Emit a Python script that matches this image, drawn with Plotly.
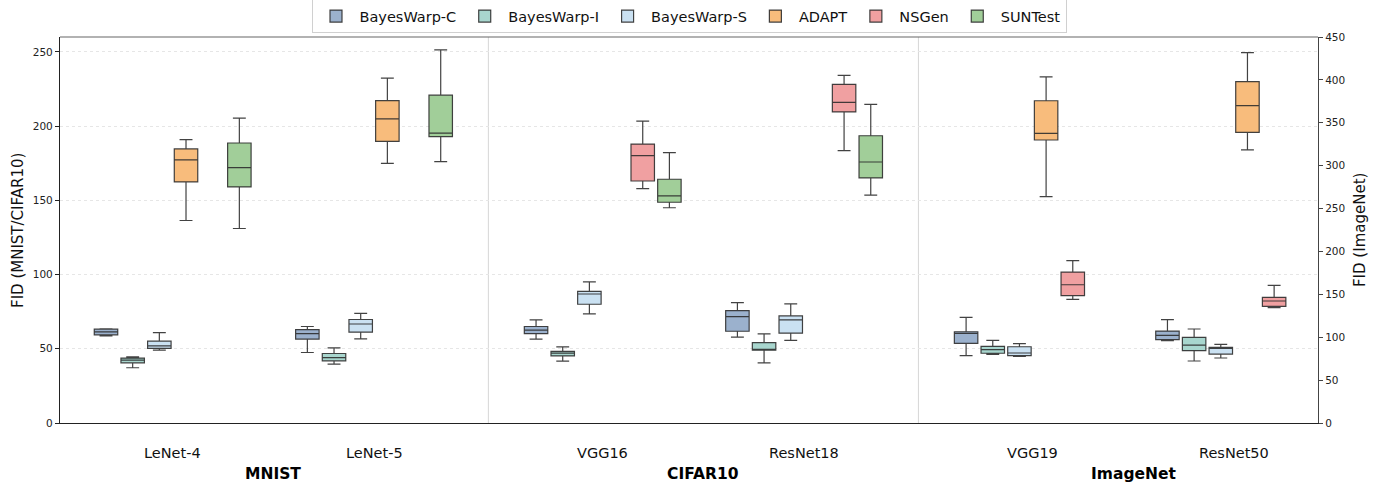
import plotly.graph_objects as go

# ---------------- data ----------------
datasets = ["MNIST", "CIFAR10", "ImageNet"]
models = ["LeNet-4", "LeNet-5", "VGG16", "ResNet18", "VGG19", "ResNet50"]
model_dataset = [0, 0, 1, 1, 2, 2]
methods = ["BayesWarp-C", "BayesWarp-I", "BayesWarp-S", "ADAPT", "NSGen", "SUNTest"]

# five-number summaries per model: (lower whisker, Q1, median, Q3, upper whisker)
bw_c = [(58.7, 59.4, 61.4, 63.2, 63.4), (47.5, 56.5, 60.2, 62.9, 65.0),
        (56.5, 60.2, 62.5, 65.0, 69.4), (57.8, 61.8, 71.7, 75.7, 81.1),
        (78.5, 92.9, 104.5, 106.4, 123.2), (95.9, 97.1, 102.2, 107.2, 120.4)]
bw_i = [(37.2, 40.5, 42.3, 43.7, 44.6), (39.6, 41.9, 44.1, 46.8, 50.6),
        (41.7, 45.2, 47.0, 48.2, 51.3), (40.5, 49.0, 49.3, 54.2, 60.0),
        (80.1, 81.3, 85.5, 89.4, 96.4), (72.3, 84.3, 90.9, 99.9, 109.6)]
bw_s = [(49.1, 50.2, 52.0, 55.1, 60.9), (56.7, 61.2, 66.7, 69.7, 73.9),
        (73.5, 80.0, 86.9, 88.7, 95.0), (55.6, 60.5, 69.4, 72.1, 80.2),
        (77.7, 78.5, 81.6, 88.9, 92.5), (75.8, 80.4, 87.0, 88.2, 91.7)]
adapt = [(136.4, 162.4, 177.2, 184.6, 190.9), (174.9, 189.7, 204.8, 217.1, 232.3),
         None, None,
         (263.8, 329.9, 337.7, 375.7, 403.4), (318.3, 338.9, 369.9, 397.9, 431.7)]
nsgen = [None, None,
         (157.9, 163.0, 180.1, 187.9, 203.3), (183.5, 209.5, 216.0, 228.1, 234.1),
         (144.2, 148.4, 161.2, 176.0, 189.2), (134.4, 136.0, 142.2, 146.5, 160.5)]
suntest = [(131.0, 159.0, 172.0, 188.6, 205.4), (176.1, 192.9, 195.3, 220.8, 251.3),
           (145.0, 148.7, 153.0, 164.2, 182.1), (153.5, 165.1, 175.8, 193.5, 214.6),
           None, None]
method_stats = [bw_c, bw_i, bw_s, adapt, nsgen, suntest]

left_ticks = [0, 50, 100, 150, 200, 250]
right_ticks = [0, 50, 100, 150, 200, 250, 300, 350, 400, 450]

# ---------------- style / layout ----------------
colors = ["rgb(155,177,205)", "rgb(168,214,206)", "rgb(202,225,242)",
          "rgb(248,188,124)", "rgb(240,160,161)", "rgb(161,206,153)"]
SLOT = 1.0
MODEL_GAP = 7.55
DS_GAP = 16.125
BOX_W = 0.88
X_RANGE = [-8.0, 39.17]
FONT = "DejaVu Sans"


def model_center(k):
    d = model_dataset[k]
    j = k % 2
    return d * DS_GAP + (j - 0.5) * MODEL_GAP


fig = go.Figure()

for side in ["left", "right"]:
    for m, (name, stats) in enumerate(zip(methods, method_stats)):
        xs, lo, q1, md, q3, hi = [], [], [], [], [], []
        for k, s in enumerate(stats):
            if s is None:
                continue
            on_right = model_dataset[k] == 2
            if (side == "right") != on_right:
                continue
            xs.append(model_center(k) + (m - 2.5) * SLOT)
            lo.append(s[0]); q1.append(s[1]); md.append(s[2]); q3.append(s[3]); hi.append(s[4])
        if not xs:
            continue
        fig.add_trace(go.Box(
            x=xs, lowerfence=lo, q1=q1, median=md, q3=q3, upperfence=hi,
            orientation="v", name=name, legendgroup=name,
            showlegend=(side == "left"),
            fillcolor=colors[m],
            line=dict(color="rgba(45,45,45,0.9)", width=1.2),
            width=BOX_W, whiskerwidth=0.55, boxpoints=False,
            yaxis="y" if side == "left" else "y2",
            hoverinfo="skip",
        ))

shapes = []
for d in range(len(datasets) - 1):
    xsep = d * DS_GAP + DS_GAP / 2
    shapes.append(dict(type="line", xref="x", yref="paper", x0=xsep, x1=xsep, y0=0, y1=1,
                       line=dict(color="#d6d6d6", width=1), layer="below"))
shapes.append(dict(type="line", xref="paper", yref="paper", x0=0, x1=1, y0=1, y1=1,
                   line=dict(color="#666666", width=1.2)))

annotations = []
for k, mname in enumerate(models):
    annotations.append(dict(x=model_center(k), y=0, xref="x", yref="paper", text=mname,
                            showarrow=False, yanchor="top", yshift=-20,
                            font=dict(family=FONT, size=14.5, color="#111")))
for d, dname in enumerate(datasets):
    annotations.append(dict(x=d * DS_GAP, y=0, xref="x", yref="paper", text="<b>" + dname + "</b>",
                            showarrow=False, yanchor="top", yshift=-40,
                            font=dict(family=FONT, size=15.5, color="#000")))
annotations.append(dict(x=-0.0334, y=0.5, xref="paper", yref="paper", text="FID (MNIST/CIFAR10)",
                        textangle=-90, showarrow=False, xanchor="center", yanchor="middle",
                        font=dict(family=FONT, size=15, color="#111")))
annotations.append(dict(x=1.0334, y=0.5, xref="paper", yref="paper", text="FID (ImageNet)",
                        textangle=-90, showarrow=False, xanchor="center", yanchor="middle",
                        font=dict(family=FONT, size=15, color="#111")))

fig.update_layout(
    width=1379, height=485,
    margin=dict(l=60, r=61, t=37, b=62, autoexpand=False),
    paper_bgcolor="white", plot_bgcolor="white",
    font=dict(family=FONT, color="#222"),
    boxmode="overlay",
    showlegend=True,
    legend=dict(orientation="h", x=0.5, xanchor="center", y=1.010, yanchor="bottom",
                bordercolor="#d0d0d0", borderwidth=1, bgcolor="white", itemwidth=37,
                tracegroupgap=0,
                font=dict(family=FONT, size=14.5, color="#111"), traceorder="normal"),
    xaxis=dict(range=X_RANGE, showticklabels=False, showgrid=False, zeroline=False,
               showline=True, linecolor="#222", linewidth=1.2, ticks=""),
    yaxis=dict(range=[0, 260], tickvals=left_ticks, showgrid=True, gridcolor="#e6e6e6",
               griddash="dot", gridwidth=0.8, zeroline=False, showline=True,
               linecolor="#222", linewidth=1.2, ticks="outside", ticklen=4,
               tickcolor="#222", tickfont=dict(family=FONT, size=10.5, color="#222")),
    yaxis2=dict(range=[0, 450], tickvals=right_ticks, overlaying="y", side="right",
                showgrid=False, zeroline=False, showline=True, linecolor="#444",
                linewidth=1.2, ticks="outside", ticklen=4, tickcolor="#444",
                tickfont=dict(family=FONT, size=10.5, color="#222")),
    shapes=shapes,
    annotations=annotations,
)

fig.write_html("out.html")
